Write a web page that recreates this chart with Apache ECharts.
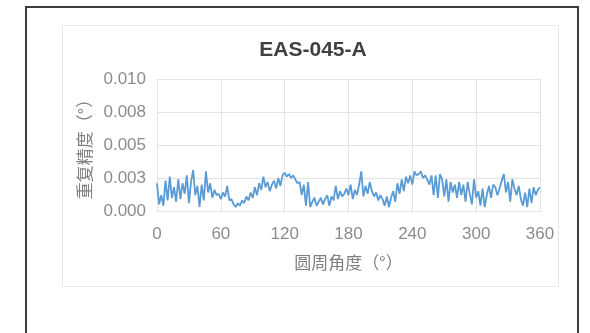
<!DOCTYPE html>
<html>
<head>
<meta charset="utf-8">
<script src="https://cdn.jsdelivr.net/npm/echarts@6/dist/echarts.min.js"></script>
<style>
  html, body { margin: 0; padding: 0; background: #fff; }
  #chart { width: 590px; height: 333px; }
</style>
</head>
<body>
<div id="chart"></div>
<script>
// circumferential angle (deg)
const angles = [
  0, 2, 4, 6, 8, 10, 12, 14, 16, 18, 20, 22, 24, 26, 28, 30, 32, 34, 36, 38,
  40, 42, 44, 46, 48, 50, 52, 54, 56, 58, 60, 62, 64, 66, 68, 70, 72, 74, 76, 78,
  80, 82, 84, 86, 88, 90, 92, 94, 96, 98, 100, 102, 104, 106, 108, 110, 112, 114, 116, 118,
  120, 122, 124, 126, 128, 130, 132, 134, 136, 138, 140, 142, 144, 146, 148, 150, 152, 154, 156, 158,
  160, 162, 164, 166, 168, 170, 172, 174, 176, 178, 180, 182, 184, 186, 188, 190, 192, 194, 196, 198,
  200, 202, 204, 206, 208, 210, 212, 214, 216, 218, 220, 222, 224, 226, 228, 230, 232, 234, 236, 238,
  240, 242, 244, 246, 248, 250, 252, 254, 256, 258, 260, 262, 264, 266, 268, 270, 272, 274, 276, 278,
  280, 282, 284, 286, 288, 290, 292, 294, 296, 298, 300, 302, 304, 306, 308, 310, 312, 314, 316, 318,
  320, 322, 324, 326, 328, 330, 332, 334, 336, 338, 340, 342, 344, 346, 348, 350, 352, 354, 356, 358,
  360
];

// repeatability (deg)
const repeatability = [
  0.0021, 0.0005, 0.0012, 0.0004, 0.0023, 0.0008, 0.0026, 0.0010, 0.0018, 0.0007,
  0.0024, 0.0009, 0.0021, 0.0013, 0.0027, 0.0006, 0.0022, 0.0031, 0.0012, 0.0019,
  0.0003, 0.0020, 0.0008, 0.0030, 0.0014, 0.0021, 0.0010, 0.0016, 0.0012, 0.0013,
  0.0009, 0.0014, 0.0011, 0.0019, 0.0008, 0.0009, 0.0005, 0.0003, 0.0006, 0.0004,
  0.0008, 0.0006, 0.0011, 0.0008, 0.0014, 0.0010, 0.0018, 0.0012, 0.0021, 0.0016,
  0.0026, 0.0018, 0.0022, 0.0015, 0.0020, 0.0023, 0.0017, 0.0025, 0.0019, 0.0027,
  0.0029, 0.0026, 0.0028, 0.0025, 0.0027, 0.0024, 0.0021, 0.0022, 0.0012, 0.0020,
  0.0004, 0.0022, 0.0003, 0.0007, 0.0010, 0.0004, 0.0007, 0.0010, 0.0005, 0.0009,
  0.0012, 0.0004, 0.0011, 0.0008, 0.0019, 0.0009, 0.0015, 0.0011, 0.0013, 0.0017,
  0.0012, 0.0020, 0.0009, 0.0016, 0.0012, 0.0020, 0.0030, 0.0011, 0.0019, 0.0013,
  0.0022, 0.0015, 0.0011, 0.0014, 0.0008, 0.0012, 0.0009, 0.0004, 0.0011, 0.0003,
  0.0010, 0.0015, 0.0007, 0.0021, 0.0013, 0.0024, 0.0015, 0.0026, 0.0021, 0.0027,
  0.0020, 0.0030, 0.0027, 0.0028, 0.0030, 0.0025, 0.0027, 0.0024, 0.0020, 0.0027,
  0.0012, 0.0027, 0.0010, 0.0028, 0.0024, 0.0011, 0.0024, 0.0007, 0.0022, 0.0014,
  0.0020, 0.0010, 0.0022, 0.0012, 0.0020, 0.0007, 0.0022, 0.0013, 0.0005, 0.0024,
  0.0010, 0.0015, 0.0004, 0.0017, 0.0003, 0.0012, 0.0019, 0.0010, 0.0020, 0.0018,
  0.0012, 0.0017, 0.0023, 0.0028, 0.0014, 0.0022, 0.0007, 0.0024, 0.0017, 0.0012,
  0.0019, 0.0009, 0.0004, 0.0014, 0.0003, 0.0017, 0.0006, 0.0018, 0.0012, 0.0016,
  0.0018
];

// y tick labels, as printed (Excel rounds 0.0025 steps to 3 decimals)
const yTickLabels = ["0.000", "0.003", "0.005", "0.008", "0.010"];

const titleText = "EAS-045-A";
const xName = "圆周角度（°）";
const yName = "重复精度（°）";

const chart = echarts.init(document.getElementById("chart"), null, { renderer: "canvas" });

const gridColor = "#e3e3e3";
const labelColor = "#8c8c8c";

chart.setOption({
  animation: false,
  backgroundColor: "#fff",
  graphic: [
    {
      type: "rect",
      z: -10,
      shape: { x: 26, y: 7, width: 552, height: 340 },
      style: { fill: "none", stroke: "#403b3b", lineWidth: 2 },
    },
    {
      type: "rect",
      z: -10,
      shape: { x: 62.5, y: 25.5, width: 496, height: 261 },
      style: { fill: "none", stroke: "#e8e8e8", lineWidth: 1 },
    },
  ],
  title: {
    text: titleText,
    left: 308,
    textAlign: "center",
    top: 35,
    textStyle: {
      color: "#404040",
      fontSize: 21,
      fontWeight: "bold",
      fontFamily: "Liberation Sans, Arial, sans-serif",
    },
  },
  grid: { left: 157, right: 50, top: 79, bottom: 122 },
  xAxis: {
    type: "value",
    min: 0,
    max: 360,
    interval: 60,
    name: xName,
    nameLocation: "middle",
    nameGap: 43,
    nameTextStyle: {
      color: "#7f7f7f",
      fontSize: 17,
      fontFamily: "Noto Sans CJK SC, sans-serif",
    },
    axisLine: { lineStyle: { color: gridColor } },
    axisTick: { show: false },
    splitLine: { show: true, lineStyle: { color: gridColor } },
    axisLabel: {
      color: labelColor,
      fontSize: 17,
      margin: 15,
      fontFamily: "Liberation Sans, Arial, sans-serif",
    },
  },
  yAxis: {
    type: "value",
    min: 0,
    max: 0.01,
    interval: 0.0025,
    name: yName,
    nameLocation: "middle",
    nameGap: 64,
    nameRotate: 90,
    nameTextStyle: {
      color: "#7f7f7f",
      fontSize: 17,
      fontFamily: "Noto Sans CJK SC, sans-serif",
    },
    axisLine: { show: false },
    axisTick: { show: false },
    splitLine: { show: true, lineStyle: { color: gridColor } },
    axisLabel: {
      color: labelColor,
      fontSize: 17,
      margin: 11,
      fontFamily: "Liberation Sans, Arial, sans-serif",
      formatter: (v) => yTickLabels[Math.round(v / 0.0025)] ?? "",
    },
  },
  series: [
    {
      type: "line",
      data: angles.map((a, i) => [a, repeatability[i]]),
      showSymbol: false,
      lineStyle: { color: "#5b9bd5", width: 1.8 },
    },
  ],
});
</script>
</body>
</html>
